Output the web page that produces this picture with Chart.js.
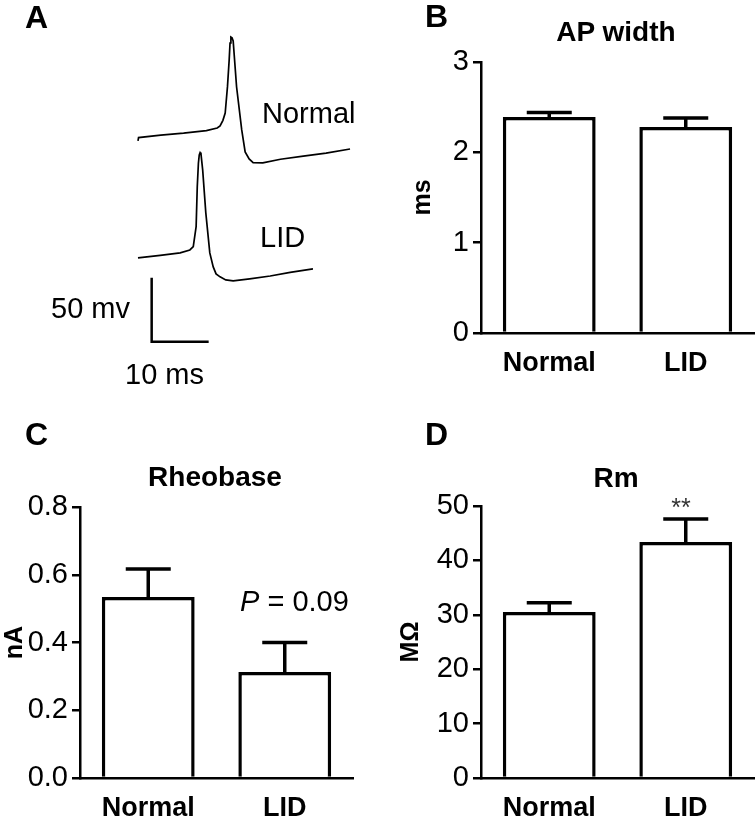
<!DOCTYPE html>
<html>
<head>
<meta charset="utf-8">
<script src="https://cdn.jsdelivr.net/npm/chart.js@4.4.1/dist/chart.umd.min.js"></script>
<style>
  body { margin: 0; background: #fff; }
  #fig { position: relative; width: 756px; height: 819px; overflow: hidden; font-family: "Liberation Sans", Arial, sans-serif; color: #000; }
  canvas { position: absolute; }
  .t { position: absolute; white-space: nowrap; line-height: 1; transform: translateY(-50%); }
</style>
</head>
<body>
<div id="fig">
  <canvas id="traces" width="378" height="400" style="left:0;top:0"></canvas>
  <canvas id="apWidth" width="378" height="400" style="left:378px;top:0"></canvas>
  <canvas id="rheobase" width="378" height="419" style="left:0;top:400px"></canvas>
  <canvas id="rm" width="378" height="419" style="left:378px;top:400px"></canvas>
</div>
<script>
// bar panels: mean and SEM per group
const groups = ["Normal", "LID"];
const apWidth = [2.39, 2.28];
const apWidthSem = [0.05, 0.10];
const rheobase = [0.534, 0.313];
const rheobaseSem = [0.083, 0.087];
const rm = [30.5, 43.4];
const rmSem = [1.7, 4.2];

// panel A example traces (ms, mV)
const normalTime = [0, 0.1, 4, 8, 12, 13.9, 14.4, 14.9, 15.3, 15.7, 16.0, 16.15, 16.3, 16.5, 16.7, 17.3, 18.2, 18.8, 19.5, 20.2, 21.9, 25, 29, 33, 37.2];
const normalMv = [-68, -65.5, -63.5, -62, -60, -58, -56.4, -52, -46.3, -25.7, -4.8, 8.4, 13.1, 12.5, 10, -26, -59.5, -76.7, -82.2, -85.1, -85.3, -82.4, -80, -77.6, -74.4];
const lidTime = [0, 3.9, 7.4, 9.1, 9.7, 10.2, 10.4, 10.6, 10.75, 10.9, 11.05, 11.35, 11.9, 12.6, 13.2, 13.7, 14.4, 15.4, 16.7, 19.6, 23.2, 26.7, 30.7];
const lidMv = [-65, -63, -61.1, -58.8, -56.2, -40.5, -9.3, 9, 15.5, 17.3, 16.3, 3.8, -29.8, -61.1, -72, -77.5, -79.8, -82.2, -83, -81.4, -79.1, -76.3, -73.6];
// scale bar: 10 ms x 50 mV
const scaleBarTime = [2.4, 2.4, 12.4];
const scaleBarMv = [-175, -225, -225];

const lidShift = -94.5; // LID trace drawn below the normal one
const ff = '"Liberation Sans", Arial, sans-serif';

function label(text, x, y, size, extra) {
  const d = document.createElement('div');
  d.className = 't';
  d.style.left = x + 'px';
  d.style.top = y + 'px';
  d.style.fontSize = size + 'px';
  if (extra) Object.assign(d.style, extra);
  d.innerHTML = text;
  document.getElementById('fig').appendChild(d);
}

const toXY = (xs, ys, dy) => xs.map((x, i) => ({ x: x, y: ys[i] + (dy || 0) }));
const lineSet = (data, w) => ({ data: data, showLine: true, borderColor: '#000', borderWidth: w, pointRadius: 0, tension: 0, fill: false });

new Chart(document.getElementById('traces'), {
  type: 'scatter',
  data: {
    datasets: [
      lineSet(toXY(normalTime, normalMv), 1.7),
      lineSet(toXY(lidTime, lidMv, lidShift), 1.7),
      lineSet(toXY(scaleBarTime, scaleBarMv), 2.5)
    ]
  },
  options: {
    responsive: false, animation: false, devicePixelRatio: 1,
    layout: { padding: 0 },
    plugins: { legend: { display: false }, tooltip: { enabled: false } },
    scales: {
      x: { type: 'linear', display: false, min: -24.21, max: 42.11 },
      y: { type: 'linear', display: false, min: -270.5, max: 42 }
    }
  }
});

function errorBars(sem) {
  return {
    id: 'errorBars',
    afterDatasetsDraw(chart) {
      const ctx = chart.ctx;
      const y = chart.scales.y;
      const vals = chart.data.datasets[0].data;
      ctx.save();
      ctx.strokeStyle = '#000';
      ctx.lineWidth = 3.5;
      chart.getDatasetMeta(0).data.forEach((bar, i) => {
        const top = y.getPixelForValue(vals[i] + sem[i]);
        ctx.beginPath();
        ctx.moveTo(bar.x, bar.y);
        ctx.lineTo(bar.x, top);
        ctx.moveTo(bar.x - 22.5, top);
        ctx.lineTo(bar.x + 22.5, top);
        ctx.stroke();
      });
      ctx.restore();
    }
  };
}

function barPanel(id, values, sem, o) {
  new Chart(document.getElementById(id), {
    type: 'bar',
    data: {
      labels: groups,
      datasets: [{
        data: values, backgroundColor: '#fff', borderColor: '#000', borderWidth: 3.5,
        categoryPercentage: 1, barPercentage: 0.68
      }]
    },
    options: {
      responsive: false, animation: false, devicePixelRatio: 1,
      layout: { padding: { top: o.top, right: o.right, left: 0, bottom: 0 } },
      plugins: { legend: { display: false }, tooltip: { enabled: false } },
      scales: {
        x: {
          grid: { display: false, drawTicks: false },
          border: { display: true, color: '#000', width: 2.5 },
          ticks: { color: '#000', font: { family: ff, size: 27, weight: 'bold' }, padding: 14 },
          afterFit: s => { s.height = o.xh; }
        },
        y: {
          min: 0, max: o.max,
          ticks: { stepSize: o.step, color: '#000', font: { family: ff, size: 29 }, padding: 4, callback: o.fmt },
          grid: { drawOnChartArea: false, color: '#000', lineWidth: 2.5, tickLength: 8 },
          border: { display: true, color: '#000', width: 2.5 },
          title: { display: true, text: o.title, color: '#000', font: { family: ff, size: 25, weight: 'bold' }, padding: { top: o.tp, bottom: 0 } },
          afterFit: s => { s.width = o.yw; }
        }
      }
    },
    plugins: [errorBars(sem)]
  });
}

barPanel('apWidth', apWidth, apWidthSem, { top: 62, right: 2, xh: 67, yw: 103, max: 3, step: 1, tp: 30, title: 'ms', fmt: v => v });
barPanel('rheobase', rheobase, rheobaseSem, { top: 107, right: 25, xh: 41, yw: 80, max: 0.8, step: 0.2, tp: 0, title: 'nA', fmt: v => v.toFixed(1) });
barPanel('rm', rm, rmSem, { top: 106, right: 2, xh: 41, yw: 103, max: 50, step: 10, tp: 18, title: 'M\u03A9', fmt: v => v });

// panel letters, titles and notes
const bold = { fontWeight: 'bold' };
const boldC = { fontWeight: 'bold', transform: 'translate(-50%,-50%)' };
label('A', 25, 17, 32, bold);
label('B', 425, 16, 32, bold);
label('C', 25, 434, 32, bold);
label('D', 425, 434, 32, bold);
label('AP width', 616, 32, 28, boldC);
label('Rheobase', 215, 477, 28, boldC);
label('Rm', 616, 478, 28, boldC);
label('Normal', 262, 113, 29);
label('LID', 260, 237, 29);
label('50 mv', 51, 308, 29);
label('10 ms', 125, 374, 29);
label('<i>P</i> = 0.09', 240, 601, 29);
label('**', 681, 507, 25, { color: '#333', transform: 'translate(-50%,-50%)' });
</script>
</body>
</html>
